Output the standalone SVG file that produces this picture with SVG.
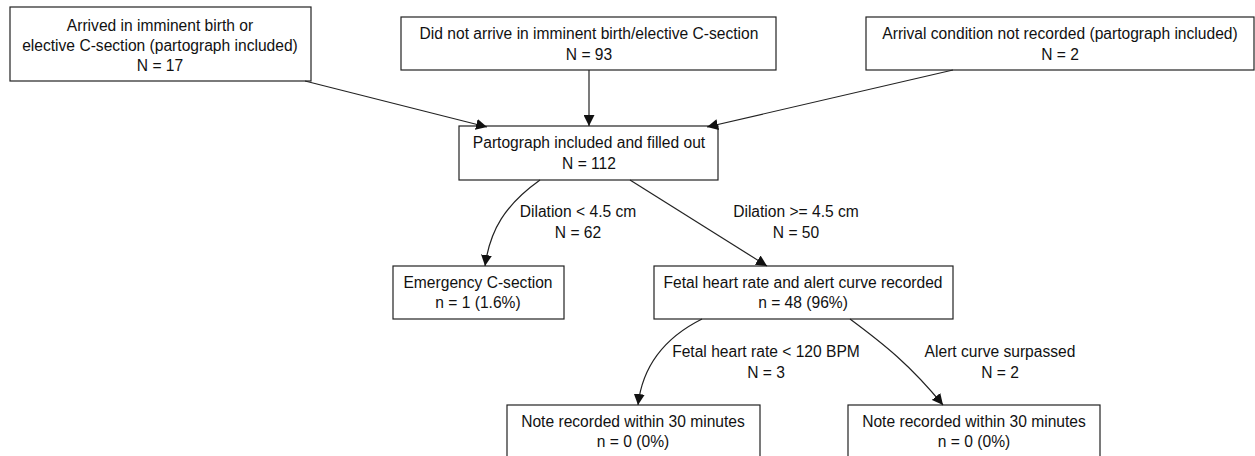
<svg xmlns="http://www.w3.org/2000/svg" width="1255" height="456" viewBox="0 0 1255 456">
<style>
.box{fill:#fff;stroke:#222;stroke-width:1.2}
text{font-family:"Liberation Sans",Arial,sans-serif;font-size:15.6px;fill:#111;text-anchor:middle}
.edge{fill:none;stroke:#222;stroke-width:1.2}
</style>
<defs>
<marker id="ah" viewBox="0 0 10 10" refX="10" refY="5" markerWidth="11" markerHeight="11" markerUnits="userSpaceOnUse" orient="auto">
<path d="M0,0 L10,5 L0,10 Z" fill="#111"/>
</marker>
</defs>
<rect width="1255" height="456" fill="#fff"/>
<g id="nA"><rect class="box" x="10" y="7" width="301" height="74"/>
<text x="160" y="31">Arrived in imminent birth or</text>
<text x="160" y="51">elective C-section (partograph included)</text>
<text x="160" y="71">N = 17</text></g>
<g id="nB"><rect class="box" x="401" y="17" width="375" height="53"/>
<text x="589" y="39">Did not arrive in imminent birth/elective C-section</text>
<text x="589" y="60">N = 93</text></g>
<g id="nC"><rect class="box" x="866" y="17" width="388" height="53"/>
<text x="1060" y="39">Arrival condition not recorded (partograph included)</text>
<text x="1060" y="60">N = 2</text></g>
<g id="nD"><rect class="box" x="459" y="126" width="259" height="54"/>
<text x="589" y="148">Partograph included and filled out</text>
<text x="589" y="169">N = 112</text></g>
<g id="nE"><rect class="box" x="393" y="266" width="171" height="53"/>
<text x="478" y="288">Emergency C-section</text>
<text x="478" y="308">n = 1 (1.6%)</text></g>
<g id="nF"><rect class="box" x="654" y="266" width="299" height="53"/>
<text x="803" y="288">Fetal heart rate and alert curve recorded</text>
<text x="803" y="308">n = 48 (96%)</text></g>
<g id="nG"><rect class="box" x="507" y="405" width="253" height="60"/>
<text x="633" y="427">Note recorded within 30 minutes</text>
<text x="633" y="447">n = 0 (0%)</text></g>
<g id="nH"><rect class="box" x="848" y="405" width="252" height="60"/>
<text x="974" y="427">Note recorded within 30 minutes</text>
<text x="974" y="447">n = 0 (0%)</text></g>
<g id="edges">
<path class="edge" marker-end="url(#ah)" d="M305,81 L487,127"/>
<path class="edge" marker-end="url(#ah)" d="M589,70 L589,126"/>
<path class="edge" marker-end="url(#ah)" d="M953,70 L707,127"/>
<path class="edge" marker-end="url(#ah)" d="M540,180 C505,205 490,230 485,266"/>
<path class="edge" marker-end="url(#ah)" d="M630,180 L767,266"/>
<path class="edge" marker-end="url(#ah)" d="M702,319 C660,340 642,370 638,405"/>
<path class="edge" marker-end="url(#ah)" d="M850,319 C885,345 910,365 943,405"/>
<text x="578" y="217">Dilation &lt; 4.5 cm</text>
<text x="578" y="238">N = 62</text>
<text x="796" y="217">Dilation &gt;= 4.5 cm</text>
<text x="796" y="238">N = 50</text>
<text x="766" y="357">Fetal heart rate &lt; 120 BPM</text>
<text x="766" y="378">N = 3</text>
<text x="1000" y="357">Alert curve surpassed</text>
<text x="1000" y="378">N = 2</text>
</g>
</svg>
